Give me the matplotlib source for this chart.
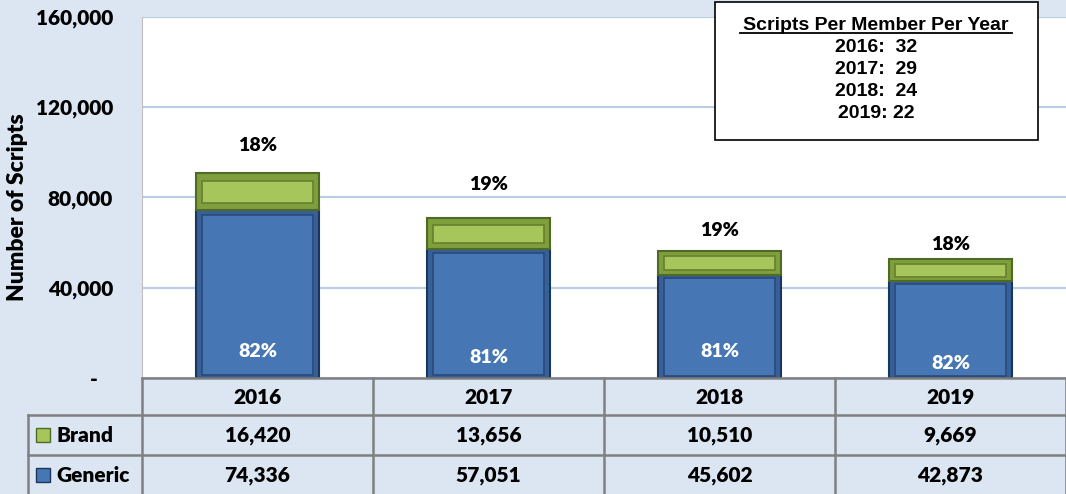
import numpy as np
import matplotlib.pyplot as plt
from matplotlib.lines import Line2D
from matplotlib.patches import Rectangle
import matplotlib.transforms as mtransforms

# Data
years = ["2016", "2017", "2018", "2019"]
brand = [16420, 13656, 10510, 9669]
generic = [74336, 57051, 45602, 42873]
spmpy = [32, 29, 24, 22]
y_ticks = [0, 40000, 80000, 120000, 160000]
y_tick_labels = ["-   ", "40,000", "80,000", "120,000", "160,000"]

# Style
BG = "#dce6f2"
GRID = "#b9cde5"
BORDER = "#808080"
BLUE, BLUE_EDGE, BLUE_IN = "#36609a", "#1c355a", "#4677b4"
GREEN, GREEN_EDGE, GREEN_IN = "#7f9e3c", "#4f6a24", "#a6c65c"
BOX_FONT = "Liberation Sans"
NUM_FONT = "Lato"
WT = "heavy"

W, H = 1066, 494
fig = plt.figure(figsize=(W / 100, H / 100), dpi=100, facecolor=BG)


def fx(px):
    return px / W


def fy(px):
    return 1 - px / H


ax = fig.add_axes([fx(142), fy(378), fx(1066) - fx(142), fy(17) - fy(378)])
ax.set_facecolor("white")
ax.set_xlim(-0.5, 3.5)
ax.set_ylim(0, 160000)

x = np.arange(len(years))
brand = np.array(brand)
generic = np.array(generic)
total = brand + generic

# bars with a simple bevel look
bw = 0.53
ax.bar(x, generic, width=bw, color=BLUE, edgecolor=BLUE_EDGE, linewidth=1.5, zorder=3)
ax.bar(x, generic * 0.95, bottom=generic * 0.02, width=bw * 0.9, color=BLUE_IN,
       edgecolor="#2a4a78", linewidth=1.2, zorder=3)
ax.bar(x, brand, bottom=generic, width=bw, color=GREEN, edgecolor=GREEN_EDGE, linewidth=1.5, zorder=3)
ax.bar(x, brand * 0.6, bottom=generic + brand * 0.2, width=bw * 0.9, color=GREEN_IN,
       edgecolor="#667f30", linewidth=1.2, zorder=3)

brand_pct = np.round(brand / total * 100).astype(int)
gen_pct = np.round(generic / total * 100).astype(int)
brand_off = [14, 18, 9, 5]
gen_off = [13, 9, 13, 4]
for i in range(len(years)):
    ax.annotate(f"{brand_pct[i]}%", (x[i], total[i]), xytext=(0, brand_off[i]),
                textcoords="offset points", ha="center", va="bottom",
                fontsize=14, fontweight=WT, family=NUM_FONT, zorder=4)
    ax.annotate(f"{gen_pct[i]}%", (x[i], 0), xytext=(0, gen_off[i]),
                textcoords="offset points", ha="center", va="bottom", color="white",
                fontsize=14, fontweight=WT, family=NUM_FONT, zorder=4)

ax.set_yticks(y_ticks)
ax.set_yticklabels(y_tick_labels, fontsize=15, fontweight=WT, family=NUM_FONT)
ax.tick_params(axis="y", length=0, pad=21)
ax.set_xticks([])
ax.grid(axis="y", color=GRID, linewidth=1.5, zorder=0)
for s in ["top", "right", "bottom"]:
    ax.spines[s].set_visible(False)
ax.spines["left"].set_color("#bfbfbf")
ax.set_ylabel("Number of Scripts", fontsize=16.5, fontweight=WT, family=NUM_FONT)
ax.yaxis.set_label_coords((28 - 142) / (1066 - 142), 0.474)

# data table below the axes
tr = mtransforms.blended_transform_factory(ax.transData, fig.transFigure)
rows = [378, 415, 455, 494]
lw = 1.8
for r in rows[:-1]:
    x0 = 142 if r == 378 else 28
    fig.add_artist(Line2D([fx(x0), 1], [fy(r), fy(r)], color=BORDER, lw=lw))
for b in np.arange(len(years) + 1) - 0.5:
    ax.add_line(Line2D([b, b], [fy(378), fy(494)], transform=tr, color=BORDER, lw=lw, clip_on=False))
fig.add_artist(Line2D([fx(28), fx(28)], [fy(415), fy(494)], color=BORDER, lw=lw))

for i, yr in enumerate(years):
    ax.text(x[i], fy(397), yr, transform=tr, ha="center", va="center",
            fontsize=15, fontweight=WT, family=NUM_FONT)
    ax.text(x[i], fy(435), f"{brand[i]:,}", transform=tr, ha="center", va="center",
            fontsize=15, fontweight=WT, family=NUM_FONT)
    ax.text(x[i], fy(475), f"{generic[i]:,}", transform=tr, ha="center", va="center",
            fontsize=15, fontweight=WT, family=NUM_FONT)

for name, yc, col, edge in [("Brand", 435, GREEN_IN, GREEN_EDGE), ("Generic", 475, BLUE_IN, BLUE_EDGE)]:
    fig.add_artist(Rectangle((fx(36), fy(yc + 7)), fx(14), fy(yc - 7) - fy(yc + 7),
                             facecolor=col, edgecolor=edge, lw=1))
    fig.text(fx(56), fy(yc), name, ha="left", va="center", fontsize=15,
             fontweight=WT, family=NUM_FONT)

# text box
fig.add_artist(Rectangle((fx(715), fy(140)), fx(1038) - fx(715), fy(2) - fy(140),
                         facecolor="white", edgecolor="black", lw=1.2, zorder=5))
fig.text(fx(876), fy(25), "Scripts Per Member Per Year", ha="center", va="center",
         fontsize=14, fontweight="bold", family=BOX_FONT, zorder=6)
fig.add_artist(Line2D([fx(740), fx(1012)], [fy(33), fy(33)], color="black", lw=1.3, zorder=6))
for i, (yr, v) in enumerate(zip(years, spmpy)):
    sep = ": " if i == len(years) - 1 else ":  "
    fig.text(fx(876), fy(47 + i * 22), f"{yr}{sep}{v}", ha="center", va="center",
             fontsize=14, fontweight="bold", family=BOX_FONT, zorder=6)

fig.savefig("out.png", dpi=100, facecolor=BG)
